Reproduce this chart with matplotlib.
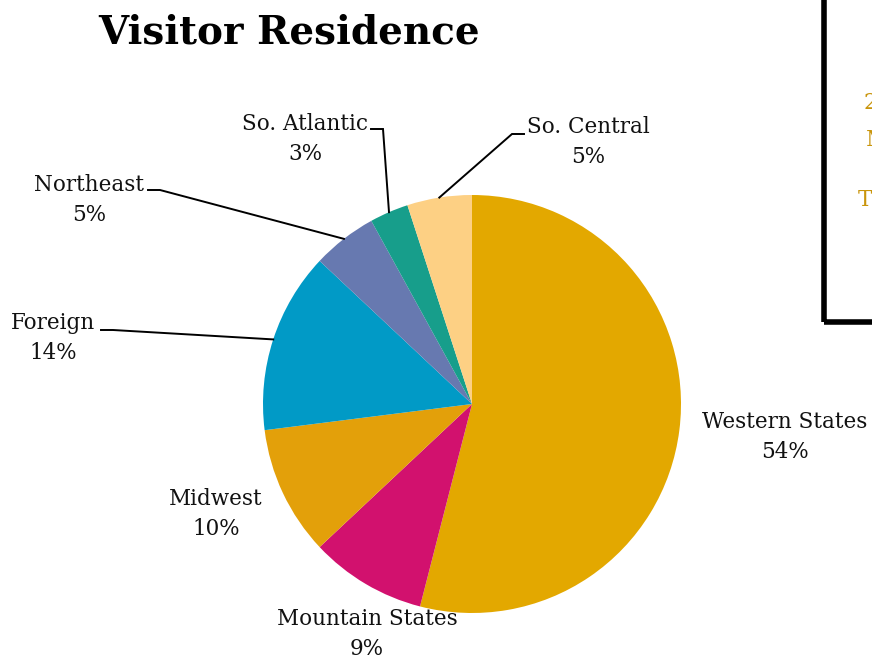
import matplotlib.pyplot as plt
import numpy as np
from matplotlib.patches import Rectangle

categories = ['Western States', 'Mountain States', 'Midwest', 'Foreign',
              'Northeast', 'So. Atlantic', 'So. Central']
shares = [54, 9, 10, 14, 5, 3, 5]
colors = ['#E3A800', '#D2116E', '#E3A00A', '#019AC6',
          '#6779B0', '#179E8B', '#FDD084']

# label block centres (pixels, y down) and elbow for leader lines
label_pos = {
    'Western States': (785, 437, None),
    'Mountain States': (367, 634, None),
    'Midwest': (216, 514, None),
    'Foreign': (53, 338, (101, 330)),
    'Northeast': (89, 200, (148, 190)),
    'So. Atlantic': (305, 139, (371, 129)),
    'So. Central': (588, 142, (512, 134)),
}
box_text = ['2', 'M', 'T']

W, H = 872, 661
plt.rcParams['font.family'] = ['DejaVu Serif']
fig = plt.figure(figsize=(W / 100, H / 100), dpi=100)
ax = fig.add_axes([0, 0, 1, 1])

cx, cy, r = 472, H - 404, 209
wedges, _ = ax.pie(shares, colors=colors, startangle=90, counterclock=False,
                   center=(cx, cy), radius=r, frame=True,
                   wedgeprops=dict(linewidth=0))
ax.set_xlim(0, W)
ax.set_ylim(0, H)
ax.set_aspect('equal')
ax.axis('off')

for w, name, val in zip(wedges, categories, shares):
    tx, ty, elbow = label_pos[name]
    ax.text(tx, H - ty, f'{name}\n{val}%', ha='center', va='center',
            fontsize=15.5, linespacing=1.5, color='#111111')
    if elbow is not None:
        ang = np.deg2rad((w.theta1 + w.theta2) / 2)
        ex, ey = cx + r * np.cos(ang), cy + r * np.sin(ang)
        x0, y0 = elbow
        xs = [x0, x0 + 12, ex] if x0 < cx else [x0 + 12, x0, ex]
        ax.plot(xs, [H - y0, H - y0, ey], color='black', lw=1.4,
                solid_joinstyle='miter')

fig.text(289 / W, 1 - 43 / H, 'Visitor Residence', ha='center',
         va='baseline', fontsize=28, fontweight='bold')

# partially visible info box on the right
ax.add_patch(Rectangle((824, H - 322), 200, 400, fill=False, lw=4,
                       edgecolor='black', clip_on=False))
for s, (x, y) in zip(box_text, [(864, 103), (866, 140), (858, 200)]):
    ax.text(x, H - y, s, ha='left', va='center', fontsize=15.5,
            color='#C9950C')

fig.savefig('out.png', dpi=100)
